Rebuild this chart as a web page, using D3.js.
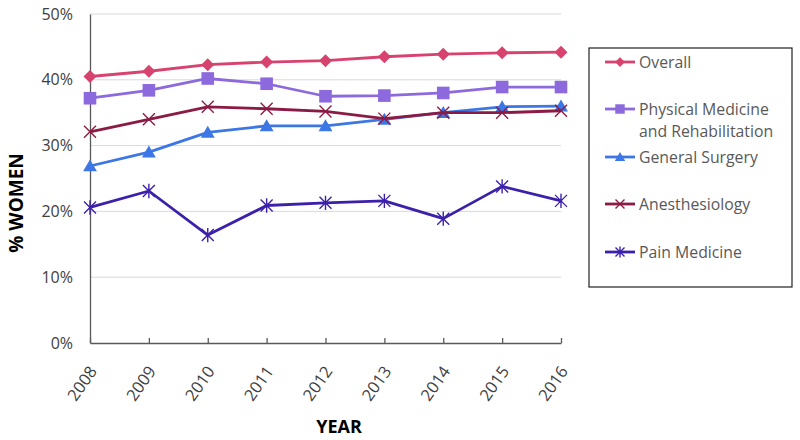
<!DOCTYPE html>
<html>
<head>
<meta charset="utf-8">
<script src="https://cdn.jsdelivr.net/npm/d3@7"></script>
<style>
  html, body { margin: 0; padding: 0; background: #ffffff; }
  svg { display: block; font-family: "Open Sans", "Liberation Sans", sans-serif; }
</style>
</head>
<body>
<svg id="chart" width="800" height="440"></svg>
<script>
// ---------- data ----------
const years = ["2008", "2009", "2010", "2011", "2012", "2013", "2014", "2015", "2016"];
const yTicks = [0, 0.1, 0.2, 0.3, 0.4, 0.5];

const overall      = [0.405, 0.413, 0.423, 0.427, 0.429, 0.435, 0.439, 0.441, 0.442];
const physMed      = [0.372, 0.384, 0.402, 0.394, 0.375, 0.376, 0.380, 0.389, 0.389];
const genSurgery   = [0.269, 0.290, 0.320, 0.330, 0.330, 0.340, 0.350, 0.359, 0.360];
const anesthesia   = [0.321, 0.340, 0.359, 0.356, 0.352, 0.341, 0.350, 0.350, 0.353];
const painMedicine = [0.206, 0.231, 0.164, 0.209, 0.213, 0.216, 0.189, 0.238, 0.216];

const seriesNames = ["Overall", "Physical Medicine|and Rehabilitation", "General Surgery", "Anesthesiology", "Pain Medicine"];
const seriesValues = [overall, physMed, genSurgery, anesthesia, painMedicine];
const seriesColors = ["#d8426f", "#8c6ade", "#3d76e5", "#8b1b44", "#3c20ab"];
const seriesMarkers = ["diamond", "square", "triangle", "x", "star"];

// ---------- layout ----------
const svg = d3.select("#chart");
const plotLeft = 90, plotRight = 561, plotTop = 14, plotBottom = 343;

const x = d3.scalePoint().domain(years).range([plotLeft, plotRight]);
const y = d3.scaleLinear().domain([0, 0.5]).range([plotBottom, plotTop]);

// gridlines
svg.append("g").selectAll("line").data(yTicks.filter(d => d > 0)).join("line")
  .attr("x1", plotLeft).attr("x2", plotRight)
  .attr("y1", d => y(d)).attr("y2", d => y(d))
  .attr("stroke", "#d9d9d9").attr("stroke-width", 1);

// y axis
const yAxis = d3.axisLeft(y).tickValues(yTicks).tickFormat(d3.format(".0%")).tickSize(0).tickPadding(17);
const gy = svg.append("g").attr("transform", `translate(${plotLeft},0)`).call(yAxis);
gy.select(".domain").attr("stroke", "#595959").attr("stroke-width", 1.3);
gy.selectAll("text").attr("font-size", 16).attr("fill", "#404040").attr("font-family", "Open Sans");

// x axis
const xAxis = d3.axisBottom(x).tickSizeInner(-5).tickSizeOuter(0).tickFormat("");
const gx = svg.append("g").attr("transform", `translate(0,${plotBottom})`).call(xAxis);
gx.select(".domain").attr("stroke", "#595959").attr("stroke-width", 1.3);
gx.selectAll(".tick line").attr("stroke", "#595959").attr("stroke-width", 1.3);

// x tick labels rotated
svg.append("g").selectAll("text").data(years).join("text")
  .attr("transform", d => `translate(${x(d) + 3},${plotBottom + 25}) rotate(-55)`)
  .attr("text-anchor", "end")
  .attr("dy", "0.35em")
  .attr("font-size", 16.5)
  .attr("fill", "#404040")
  .text(d => d);

// axis titles
svg.append("text")
  .attr("transform", "translate(23,203) rotate(-90)")
  .attr("text-anchor", "middle")
  .attr("font-size", 19).attr("font-weight", "bold").attr("fill", "#000")
  .text("% WOMEN");
svg.append("text")
  .attr("x", 339).attr("y", 433)
  .attr("text-anchor", "middle")
  .attr("font-size", 18).attr("font-weight", "bold").attr("fill", "#000")
  .text("YEAR");

// marker drawing
function drawMarker(g, type, color, s) {
  if (type === "diamond") {
    g.append("path").attr("d", `M0,${-s}L${s},0L0,${s}L${-s},0Z`).attr("fill", color);
  } else if (type === "square") {
    g.append("rect").attr("x", -s).attr("y", -s).attr("width", 2 * s).attr("height", 2 * s).attr("fill", color);
  } else if (type === "triangle") {
    g.append("path").attr("d", `M0,${-s * 1.05}L${s * 1.1},${s * 0.85}L${-s * 1.1},${s * 0.85}Z`).attr("fill", color);
  } else if (type === "x") {
    g.append("path").attr("d", `M${-s},${-s}L${s},${s}M${-s},${s}L${s},${-s}`)
      .attr("stroke", color).attr("stroke-width", 1.4).attr("fill", "none");
  } else if (type === "star") {
    g.append("path").attr("d", `M${-s},${-s}L${s},${s}M${-s},${s}L${s},${-s}M0,${-s * 1.2}L0,${s * 1.2}`)
      .attr("stroke", color).attr("stroke-width", 1.4).attr("fill", "none");
  }
}
const markerSize = { diamond: 6.5, square: 6.3, triangle: 6.3, x: 6, star: 6 };

// series lines + markers
const line = d3.line().x((d, i) => x(years[i])).y(d => y(d));
seriesValues.forEach((vals, si) => {
  const g = svg.append("g");
  g.append("path").datum(vals).attr("d", line)
    .attr("fill", "none").attr("stroke", seriesColors[si]).attr("stroke-width", 2.8)
    .attr("stroke-linejoin", "round");
  vals.forEach((v, i) => {
    const mg = g.append("g").attr("transform", `translate(${x(years[i])},${y(v)})`);
    drawMarker(mg, seriesMarkers[si], seriesColors[si], markerSize[seriesMarkers[si]]);
  });
});

// legend
const lg = svg.append("g");
lg.append("rect").attr("x", 589).attr("y", 48).attr("width", 203).attr("height", 239)
  .attr("fill", "#fff").attr("stroke", "#222").attr("stroke-width", 1.2);
const legendY = [62, 109, 157, 204, 252];
seriesNames.forEach((name, i) => {
  const yy = legendY[i];
  lg.append("line").attr("x1", 605).attr("x2", 635).attr("y1", yy).attr("y2", yy)
    .attr("stroke", seriesColors[i]).attr("stroke-width", 2.8);
  const mg = lg.append("g").attr("transform", `translate(620,${yy})`);
  drawMarker(mg, seriesMarkers[i], seriesColors[i], markerSize[seriesMarkers[i]] * 0.75);
  const lines = name.split("|");
  lines.forEach((t, k) => {
    lg.append("text").attr("x", 639).attr("y", yy + k * 22).attr("dy", "0.35em")
      .attr("font-size", 15.8).attr("fill", "#595959").text(t);
  });
});
</script>
</body>
</html>
